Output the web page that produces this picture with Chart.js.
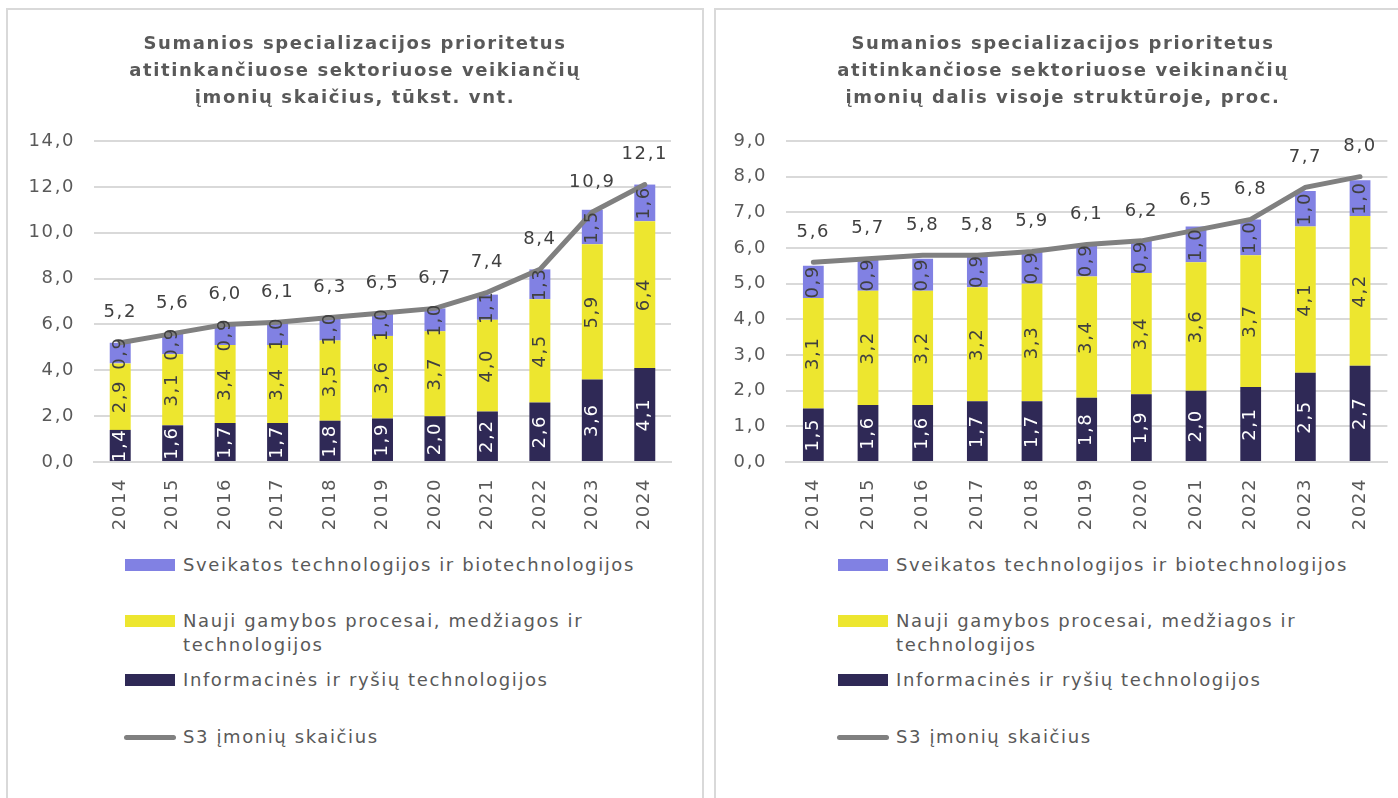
<!DOCTYPE html>
<html>
<head>
<meta charset="utf-8">
<script src="https://cdn.jsdelivr.net/npm/chart.js@4.4.1/dist/chart.umd.min.js"></script>
<style>
body { margin:0; background:#fff; width:1398px; height:798px; overflow:hidden; position:relative; font-family:"DejaVu Sans", Verdana, sans-serif; }
.panel { position:absolute; top:8px; height:820px; border:2px solid #d9d9d9; box-sizing:border-box; }
#panelLeft { left:6px; width:698px; }
#panelRight { left:714px; width:720px; }
canvas { position:absolute; top:0; }
#leftCanvas { left:4px; }
#rightCanvas { left:728px; }
.legend { position:absolute; top:0; color:#595959; font-size:18px; line-height:24px; letter-spacing:1.6px; }
.item { position:absolute; left:0; width:462px; padding-left:58px; }
.swatch { position:absolute; left:0; top:6px; width:50px; height:12px; }
.swatch.line { left:-1px; top:10px; width:52px; height:5px; border-radius:3px; }
</style>
</head>
<body>
<div class="panel" id="panelLeft"></div>
<div class="panel" id="panelRight"></div>
<canvas id="leftCanvas" width="702" height="542"></canvas>
<canvas id="rightCanvas" width="670" height="542"></canvas>
<div class="legend" id="leftLegend" style="left:125px"></div>
<div class="legend" id="rightLegend" style="left:838px"></div>
<script>
const years = ['2014', '2015', '2016', '2017', '2018', '2019', '2020', '2021', '2022', '2023', '2024'];

const seriesNames = [
    'Informacinės ir ryšių technologijos',
    'Nauji gamybos procesai, medžiagos ir technologijos',
    'Sveikatos technologijos ir biotechnologijos',
    'S3 įmonių skaičius'
];

// left chart, thousand units
const ictCount = [1.4, 1.6, 1.7, 1.7, 1.8, 1.9, 2.0, 2.2, 2.6, 3.6, 4.1];
const manufCount = [2.9, 3.1, 3.4, 3.4, 3.5, 3.6, 3.7, 4.0, 4.5, 5.9, 6.4];
const healthCount = [0.9, 0.9, 0.9, 1.0, 1.0, 1.0, 1.0, 1.1, 1.3, 1.5, 1.6];
const totalCount = [5.2, 5.6, 6.0, 6.1, 6.3, 6.5, 6.7, 7.4, 8.4, 10.9, 12.1];

// right chart, percent
const ictShare = [1.5, 1.6, 1.6, 1.7, 1.7, 1.8, 1.9, 2.0, 2.1, 2.5, 2.7];
const manufShare = [3.1, 3.2, 3.2, 3.2, 3.3, 3.4, 3.4, 3.6, 3.7, 4.1, 4.2];
const healthShare = [0.9, 0.9, 0.9, 0.9, 0.9, 0.9, 0.9, 1.0, 1.0, 1.0, 1.0];
const totalShare = [5.6, 5.7, 5.8, 5.8, 5.9, 6.1, 6.2, 6.5, 6.8, 7.7, 8.0];

const leftTitle = ['Sumanios specializacijos prioritetus', 'atitinkančiuose sektoriuose veikiančių', 'įmonių skaičius, tūkst. vnt.'];
const rightTitle = ['Sumanios specializacijos prioritetus', 'atitinkančiose sektoriuose veikinančių', 'įmonių dalis visoje struktūroje, proc.'];

const colors = ['#2f2956', '#ede62f', '#8181e3', '#808080'];
const labelColors = ['#ffffff', '#404040', '#404040'];
const legendOrder = [2, 1, 0, 3];
const legendTops = [553, 609, 668, 725];

Chart.defaults.font.family = '"DejaVu Sans", Verdana, sans-serif';
Chart.defaults.color = '#595959';

function fmt(v) {
    return v.toFixed(1).replace('.', ',');
}

// Verdana-like wide spacing for every canvas text
const wideText = {
    id: 'wideText',
    beforeDraw(chart) {
        chart.ctx.letterSpacing = '1.6px';
    }
};

const valueLabels = {
    id: 'valueLabels',
    afterDatasetsDraw(chart) {
        const ctx = chart.ctx;
        ctx.save();
        ctx.letterSpacing = '1.6px';
        ctx.font = '18px "DejaVu Sans"';
        ctx.textAlign = 'center';
        ctx.textBaseline = 'middle';
        chart.data.datasets.forEach((ds, i) => {
            const meta = chart.getDatasetMeta(i);
            meta.data.forEach((el, j) => {
                const text = fmt(ds.data[j]);
                if (ds.type === 'line') {
                    ctx.fillStyle = '#404040';
                    ctx.fillText(text, el.x, el.y - 30);
                } else {
                    ctx.save();
                    ctx.translate(el.x, (el.y + el.base) / 2);
                    ctx.rotate(-Math.PI / 2);
                    ctx.fillStyle = ds.labelColor;
                    ctx.fillText(text, 0, 0);
                    ctx.restore();
                }
            });
        });
        ctx.restore();
    }
};

function makeChart(canvasId, title, bars, total, yMax, yStep, yWidth, rightGap, barPct) {
    const datasets = [{
        type: 'line',
        label: seriesNames[3],
        data: total,
        borderColor: colors[3],
        backgroundColor: colors[3],
        borderWidth: 5,
        borderCapStyle: 'round',
        pointRadius: 0,
        tension: 0,
        stack: 'line',
        order: 0
    }];
    bars.forEach((values, i) => {
        datasets.push({
            type: 'bar',
            label: seriesNames[i],
            data: values,
            backgroundColor: colors[i],
            labelColor: labelColors[i],
            stack: 'bars',
            order: 1,
            categoryPercentage: 1,
            barPercentage: barPct
        });
    });

    return new Chart(document.getElementById(canvasId).getContext('2d'), {
        data: { labels: years, datasets: datasets },
        options: {
            responsive: false,
            animation: false,
            layout: { padding: 0 },
            plugins: {
                legend: { display: false },
                tooltip: { enabled: false },
                title: {
                    display: true,
                    text: title,
                    color: '#595959',
                    font: { size: 18, weight: 'bold', lineHeight: 1.5 },
                    padding: { top: 31, bottom: 29 }
                }
            },
            scales: {
                x: {
                    stacked: true,
                    grid: { display: false, drawTicks: false },
                    border: { display: true, color: '#d9d9d9', width: 2 },
                    ticks: { font: { size: 18 }, color: '#595959', minRotation: 90, maxRotation: 90, padding: 16 },
                    afterFit: scale => { scale.height = 80; }
                },
                y: {
                    stacked: true,
                    min: 0,
                    max: yMax,
                    grid: { color: '#d9d9d9', lineWidth: 2, drawTicks: false },
                    border: { display: false },
                    ticks: { stepSize: yStep, font: { size: 18 }, color: '#595959', padding: 19, callback: v => fmt(v) },
                    afterFit: scale => { scale.width = yWidth; }
                },
                // empty right-hand axis, only keeps the gap to the panel edge
                gap: {
                    position: 'right',
                    min: 0,
                    max: yMax,
                    grid: { display: false, drawTicks: false },
                    border: { display: false },
                    ticks: { display: false },
                    afterFit: scale => { scale.width = rightGap; }
                }
            }
        },
        plugins: [wideText, valueLabels]
    });
}

function buildLegend(chart, containerId) {
    const box = document.getElementById(containerId);
    legendOrder.forEach((idx, k) => {
        const ds = chart.data.datasets.find(d => d.label === seriesNames[idx]);
        const item = document.createElement('div');
        item.className = 'item';
        item.style.top = legendTops[k] + 'px';
        const sw = document.createElement('span');
        sw.className = ds.type === 'line' ? 'swatch line' : 'swatch';
        sw.style.background = ds.type === 'line' ? ds.borderColor : ds.backgroundColor;
        item.appendChild(sw);
        item.appendChild(document.createTextNode(ds.label));
        box.appendChild(item);
    });
}

const leftChart = makeChart('leftCanvas', leftTitle, [ictCount, manufCount, healthCount], totalCount, 14, 2, 90, 35, 0.4);
const rightChart = makeChart('rightCanvas', rightTitle, [ictShare, manufShare, healthShare], totalShare, 9, 1, 58, 8, 0.38);
buildLegend(leftChart, 'leftLegend');
buildLegend(rightChart, 'rightLegend');
</script>
</body>
</html>
